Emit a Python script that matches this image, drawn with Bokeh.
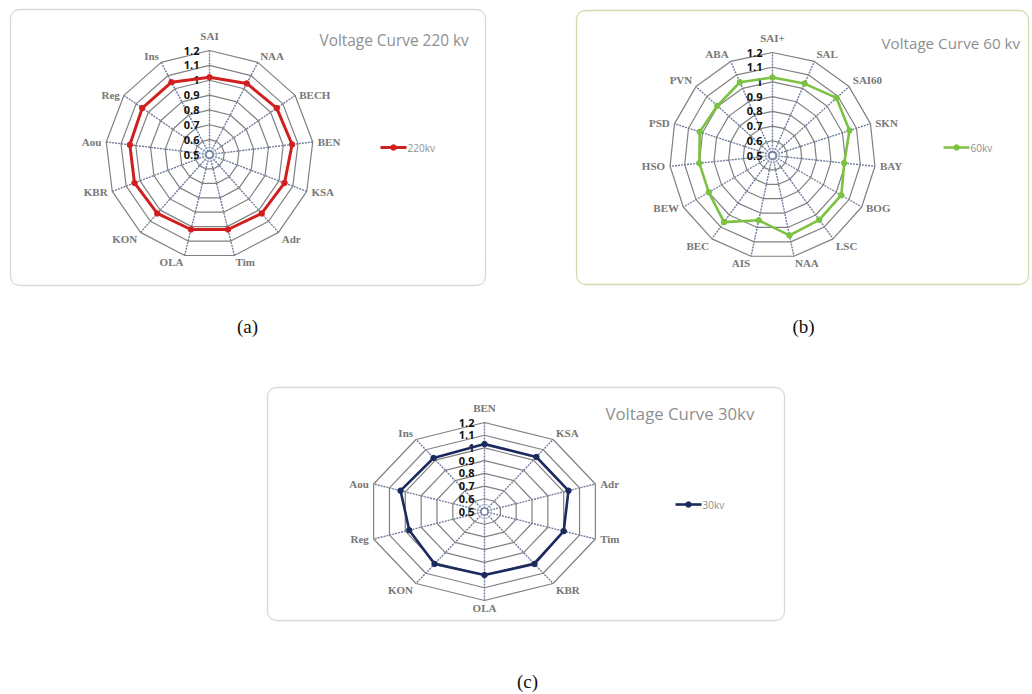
import math
from bokeh.plotting import figure
from bokeh.models import Range1d, ColumnDataSource
from bokeh.core.properties import value
from bokeh.embed import file_html
from bokeh.resources import INLINE

# ---- data -------------------------------------------------------------
cats_220 = ["SAI", "NAA", "BECH", "BEN", "KSA", "Adr", "Tim", "OLA",
            "KON", "KBR", "Aou", "Reg", "Ins"]
vals_220 = [1.02, 1.04, 1.05, 1.06, 1.04, 1.03, 1.02, 1.02,
            1.03, 1.04, 1.04, 1.05, 1.05]

cats_60 = ["SAI+", "SAL", "SAI60", "SKN", "BAY", "BOG", "LSC", "NAA",
           "AIS", "BEC", "BEW", "HSO", "PSD", "PVN", "ABA"]
vals_60 = [1.03, 1.035, 1.085, 1.05, 0.99, 1.04, 1.04, 1.055,
           0.95, 1.06, 1.0, 1.0, 1.02, 1.005, 1.045]

cats_30 = ["BEN", "KSA", "Adr", "Tim", "KBR", "OLA", "KON", "Reg",
           "Aou", "Ins"]
vals_30 = [1.03, 1.03, 1.03, 1.0, 1.01, 1.0, 1.01, 0.975, 1.03, 1.02]

ticks = [0.5, 0.6, 0.7, 0.8, 0.9, 1.0, 1.1, 1.2]
tick_labels = ["0.5", "0.6", "0.7", "0.8", "0.9", "1", "1.1", "1.2"]
r_min, r_max = 0.5, 1.2

W, H = 1032, 694
p = figure(width=W, height=H, output_backend="svg", toolbar_location=None,
           x_range=Range1d(0, W), y_range=Range1d(H, 0),
           min_border=0, outline_line_color=None)
p.axis.visible = False
p.grid.visible = False
p.background_fill_color = "white"
p.border_fill_color = "white"


def radar(cats, vals, cx, cy, R, xs, color, lw, title, title_x, title_y,
          title_size, leg_x, leg_y, leg_label, box, box_color):
    # chart frame
    x0, y0, x1, y1 = box
    p.quad(left=[x0], right=[x1], top=[y0], bottom=[y1],
           fill_color="white", line_color=box_color, line_width=1.3,
           border_radius=9)

    n = len(cats)
    ang = [2 * math.pi * i / n for i in range(n)]

    def pt(v, a):
        r = (v - r_min) / (r_max - r_min) * R
        return cx + r * math.sin(a) * xs, cy - r * math.cos(a)

    # spokes
    sx, sy = [], []
    for a in ang:
        ex, ey = pt(r_max, a)
        sx.append([cx, ex])
        sy.append([cy, ey])
    p.multi_line(sx, sy, line_color="#6f7c9c", line_width=1.4,
                 line_dash="2 1")

    # rings
    rx, ry = [], []
    for t in ticks[1:]:
        xs_, ys_ = zip(*[pt(t, a) for a in ang + [ang[0]]])
        rx.append(list(xs_))
        ry.append(list(ys_))
    p.multi_line(rx, ry, line_color="#808080", line_width=1.2)
    p.scatter([cx], [cy], size=7, fill_color="white",
              line_color="#6f7fa0", line_width=1.3)
    p.scatter([cx], [cy], size=14, fill_color=None,
              line_color="#a8b2c6", line_width=1)

    # tick labels
    ty = [pt(t, 0)[1] for t in ticks]
    p.text([cx - 10] * len(ticks), ty, text=tick_labels,
           text_font=value("Open Sans"), text_font_style="bold",
           text_font_size="11px", text_color="#111111",
           text_align="right", text_baseline="middle")

    # category labels
    lx, ly, la, lb = [], [], [], []
    for a in ang:
        ex, ey = pt(r_max, a)
        s, c = math.sin(a), math.cos(a)
        off_y = 9 if c > 0.95 else 1
        lx.append(ex + 5 * s)
        ly.append(ey - off_y * c)
        la.append("left" if s > 0.2 else ("right" if s < -0.2 else "center"))
        lb.append("bottom" if c > 0.6 else ("top" if c < -0.6 else "middle"))
    src = ColumnDataSource(dict(x=lx, y=ly, t=cats, a=la, b=lb))
    p.text("x", "y", text="t", source=src, text_align="a",
           text_baseline="b", text_font=value("Liberation Serif"),
           text_font_style="bold", text_font_size="11px",
           text_color="#777777")

    # series
    px, py = zip(*[pt(v, a) for v, a in zip(vals, ang)])
    p.line(list(px) + [px[0]], list(py) + [py[0]], line_color=color,
           line_width=lw, line_join="round")
    p.scatter(list(px), list(py), size=5.5, fill_color=color,
              line_color=color)

    # title
    p.text([title_x], [title_y], text=[title], text_font=value("Open Sans"),
           text_font_size=title_size, text_color="#8f8f8f",
           text_baseline="middle")

    # legend
    p.line([leg_x, leg_x + 26], [leg_y, leg_y], line_color=color,
           line_width=lw)
    p.scatter([leg_x + 13], [leg_y], size=5.5, fill_color=color,
              line_color=color)
    p.text([leg_x + 27], [leg_y], text=[leg_label],
           text_font=value("Open Sans"), text_font_size="10px",
           text_color="#8f8f8f", text_baseline="middle")


radar(cats_220, vals_220, 209, 154, 104, 1.0, "#d11f1f", 3,
      "Voltage Curve 220 kv", 319, 40, "15.4px", 380, 147, "220kv",
      (10, 9, 485, 285), "#d9d9d9")
radar(cats_60, vals_60, 772, 155, 103, 1.0, "#7cc242", 2.6,
      "Voltage Curve 60 kv", 881, 42, "15.2px", 943, 147, "60kv",
      (576, 10, 1028, 284), "#d3dbb0")
radar(cats_30, vals_30, 484, 511, 89, 1.31, "#1b2a5e", 2.6,
      "Voltage Curve 30kv", 605, 413, "16.8px", 675, 504, "30kv",
      (267, 387, 784, 620), "#d9d9d9")

# sub-figure captions
p.text([247, 803, 527], [326, 326, 681], text=["(a)", "(b)", "(c)"],
       text_font=value("Liberation Serif"), text_font_size="19px",
       text_color="#111111", text_align="center", text_baseline="middle")

open("out.html", "w").write(file_html(p, INLINE))
